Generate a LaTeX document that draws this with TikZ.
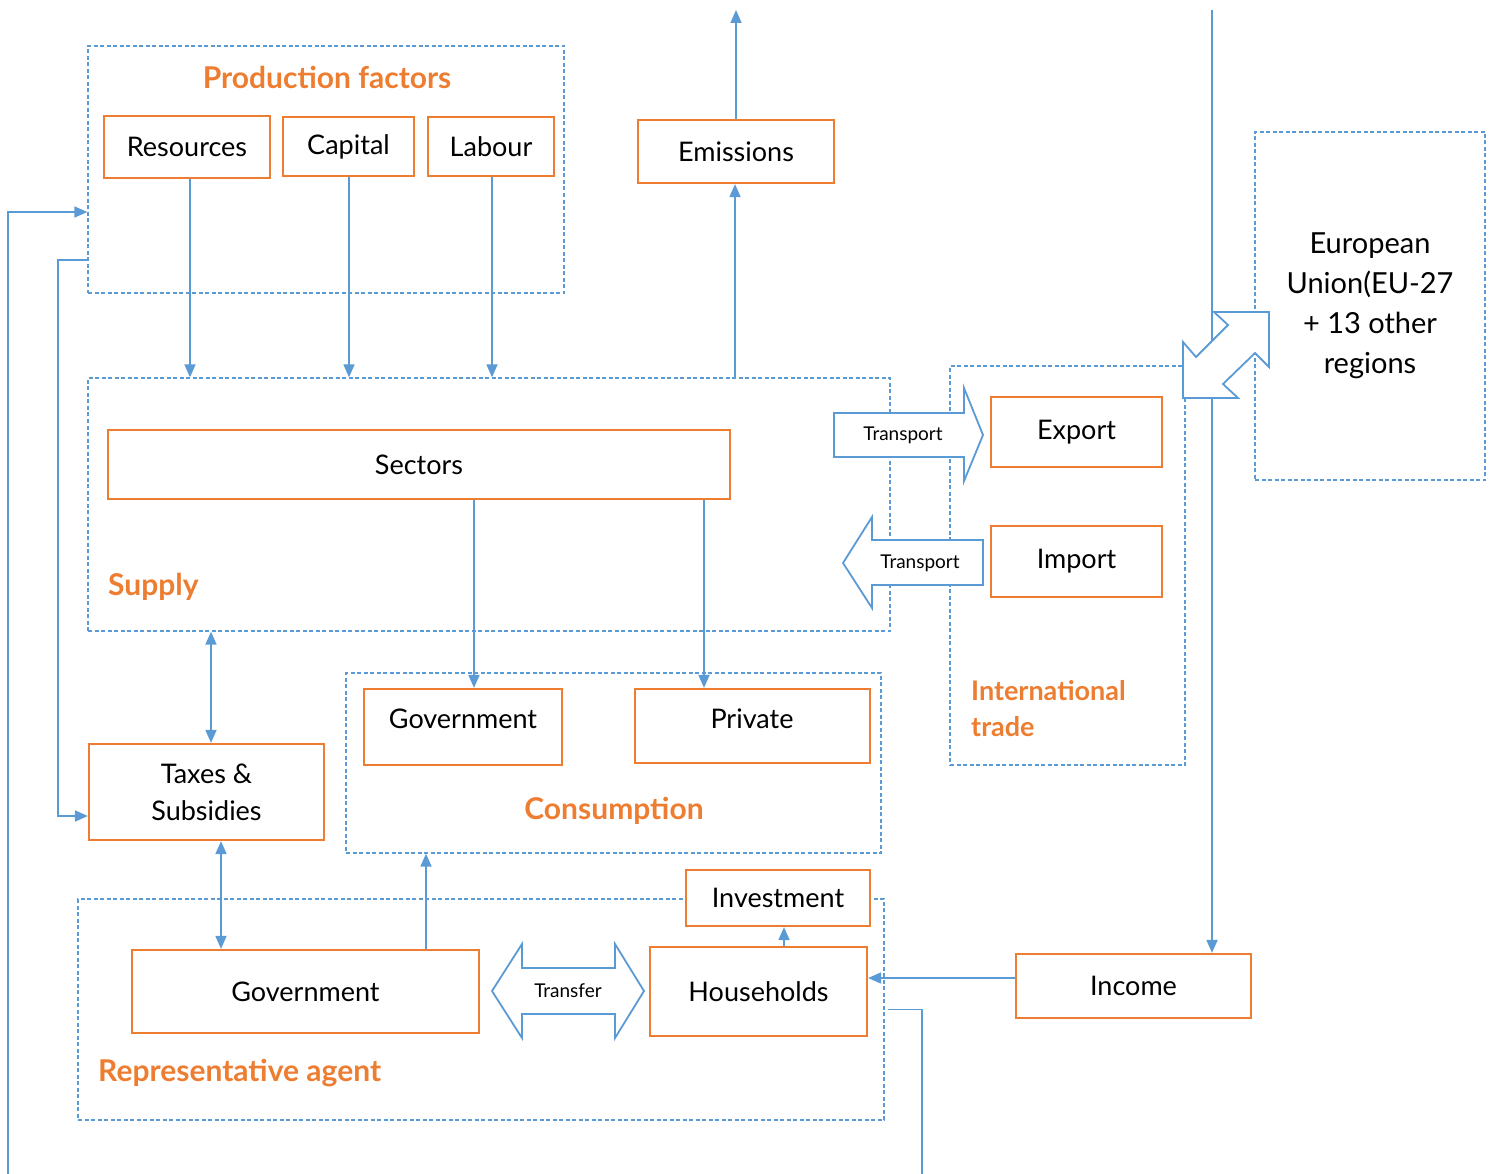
\documentclass[tikz,border=0pt]{standalone}
\usepackage{fontspec}
\setmainfont{Lato}
\usetikzlibrary{arrows.meta}
\definecolor{ob}{HTML}{ED7D31}
\definecolor{bl}{HTML}{5B9BD5}
\newcommand\mkbox[7]{\node[#1, minimum width={(#4-#2)*1pt}, minimum height={(#5-#3)*1pt}, align=center] (#6) at ({(#2+#4)/2},{(#3+#5)/2}) {#7};}
\begin{document}
\begin{tikzpicture}[x=1pt,y=-1pt,
 obox/.style={draw=ob, line width=2.2pt, fill=white, inner sep=0pt, font=\fontsize{27}{37}\selectfont},
 dbox/.style={draw=bl, dash pattern=on 4pt off 2.5pt, line width=1.3pt, inner sep=0pt},
 conn/.style={draw=bl, line width=1.8pt, -{Triangle[length=13pt,width=11pt]}},
 dconn/.style={draw=bl, line width=1.8pt, {Triangle[length=13pt,width=11pt]}-{Triangle[length=13pt,width=11pt]}},
 plain/.style={draw=bl, line width=1.8pt},
 head/.style={text=ob, font=\bfseries\fontsize{30}{36}\selectfont, inner sep=0pt},
 lbl/.style={font=\fontsize{27}{37}\selectfont, inner sep=0pt},
 blk/.style={draw=bl, line width=1.8pt, fill=white, line join=miter},
 small/.style={font=\fontsize{19}{22}\selectfont, inner sep=0pt}
]
\useasboundingbox (0,0) rectangle (1495,1174);
% dashed groups
\mkbox{dbox}{88}{46}{564}{293}{pf}{}
\mkbox{dbox}{88}{378}{890}{631}{sup}{}
\mkbox{dbox}{950}{366}{1185}{765}{it}{}
\mkbox{dbox}{1255}{132}{1485}{480}{eu}{}
\mkbox{dbox}{346}{673}{881}{853}{cons}{}
\mkbox{dbox}{78}{899}{884}{1120}{ra}{}
% headings
\node[head] (hpf) at (327,77) {Production factors};
\node[head, anchor=west] (hsup) at (108,587) {Supply};
\node[head, anchor=west, align=left, font=\bfseries\fontsize{27}{36}\selectfont] (hit) at (971,709) {International\\trade};
\node[head] (hcons) at (614,811) {Consumption};
\node[head, anchor=west] (hra) at (98,1073) {Representative agent};
\node[lbl, align=center, font=\fontsize{29}{40}\selectfont] (eut) at (1370,306) {European\\Union(EU-27\\+ 13 other\\regions};
% free ends
\coordinate (emtop) at (737,10);
\coordinate (eutop) at (1212,10);
\coordinate (lbot) at (8,1174);
\coordinate (rbot) at (922,1174);
% orange boxes
\mkbox{obox}{104}{116}{270}{178}{res}{Resources}
\mkbox{obox}{283}{117}{414}{176}{cap}{Capital}
\mkbox{obox}{428}{117}{554}{176}{lab}{Labour}
\mkbox{obox}{638}{120}{834}{183}{emi}{Emissions}
\mkbox{obox}{108}{430}{730}{499}{sec}{Sectors}
\mkbox{obox}{991}{397}{1162}{467}{exp}{Export}
\mkbox{obox}{991}{526}{1162}{597}{imp}{Import}
\mkbox{obox}{364}{689}{562}{765}{cgov}{}
\node[lbl] (cgovt) at (463,719) {Government};
\mkbox{obox}{635}{689}{870}{763}{priv}{}
\node[lbl] (privt) at (752,719) {Private};
\mkbox{obox}{89}{744}{324}{840}{tax}{Taxes \&\\Subsidies}
\mkbox{obox}{132}{950}{479}{1033}{gov}{Government}
\mkbox{obox}{650}{947}{867}{1036}{hh}{Households}
\mkbox{obox}{686}{870}{870}{926}{inv}{Investment}
\mkbox{obox}{1016}{954}{1251}{1018}{inc}{Income}
% connectors
\draw[conn] ([xshift=3pt]res.south) -- ([xshift=3pt]res.south |- sup.north);
\draw[conn] ([xshift=0.5pt]cap.south) -- ([xshift=0.5pt]cap.south |- sup.north);
\draw[conn] ([xshift=1pt]lab.south) -- ([xshift=1pt]lab.south |- sup.north);
\draw[conn] ([xshift=-1pt]emi.south |- sup.north) -- ([xshift=-1pt]emi.south);
\draw[conn] (emi.north) -- (emi.north |- emtop);
\draw[conn] ([xshift=11pt]cgov.north |- sec.south) -- ([xshift=11pt]cgov.north);
\draw[conn] ([xshift=-48.5pt]priv.north |- sec.south) -- ([xshift=-48.5pt]priv.north);
\draw[dconn] ([xshift=4.5pt]tax.north |- sup.south) -- ([xshift=4.5pt]tax.north);
\draw[dconn] ([xshift=14.5pt]tax.south) -- ([xshift=14.5pt]tax.south |- gov.north);
\draw[conn] ([xshift=120.5pt]gov.north) -- ([xshift=120.5pt]gov.north |- cons.south);
\draw[conn] ([xshift=25.5pt]hh.north) -- ([xshift=25.5pt]hh.north |- inv.south);
\draw[conn] ([yshift=8pt]inc.west) -- ([yshift=8pt]inc.west -| hh.east);
\draw[conn] (eutop) -- (eutop |- inc.north);
\draw[conn] (lbot) |- ([yshift=-42.5pt]pf.west);
\draw[conn] ([yshift=-90.5pt]pf.west) -- ++(-29,0) |- ([yshift=-24pt]tax.west);
\draw[plain] ([xshift=3pt]ra.east) -| (rbot);
% block arrows
\draw[blk] (834,413) -- (964,413) -- (964,388) -- (983,435) -- (964,481) -- (964,457) -- (834,457) -- cycle;
\node[small] (tr1) at (903,435) {Transport};
\draw[blk] (983,540) -- (872,540) -- (872,517) -- (843,563) -- (872,608) -- (872,585) -- (983,585) -- cycle;
\node[small] (tr2) at (920,563) {Transport};
\draw[blk] (492,991) -- (522,944) -- (522,968) -- (615,968) -- (615,944) -- (644,991) -- (615,1038) -- (615,1014) -- (522,1014) -- (522,1038) -- cycle;
\node[small] (tf) at (568,991) {Transfer};
\draw[blk] (1214,312) -- (1269,312) -- (1269,367) -- (1255,353) -- (1223,384) -- (1238,398) -- (1183,398) -- (1183,342) -- (1196,357) -- (1228,325) -- cycle;
\end{tikzpicture}
\end{document}
